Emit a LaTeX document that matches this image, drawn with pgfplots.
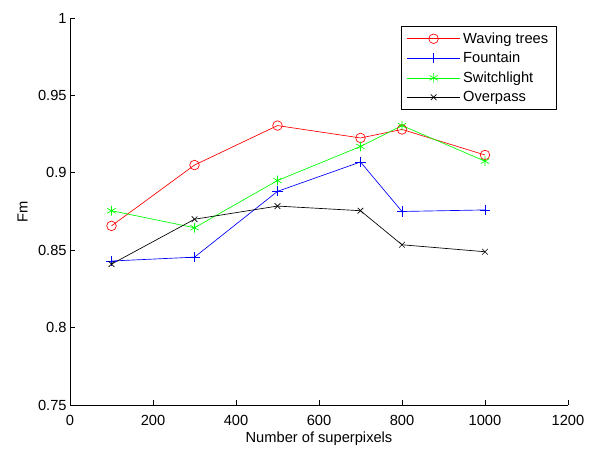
\documentclass[border=0pt]{standalone}
\usepackage{fontspec}
\setmainfont{Liberation Sans}
\usepackage{pgfplots}
\pgfplotsset{compat=1.18}
\begin{document}
\begin{tikzpicture}
\begin{axis}[
  scale only axis,
  width=373.5pt, height=290.25pt,
  xmin=0, xmax=1200, ymin=0.75, ymax=1,
  xtick={0,200,...,1200},
  ytick={0.75,0.8,0.85,0.9,0.95,1},
  yticklabels={0.75,0.8,0.85,0.9,0.95,1},
  /pgf/number format/assume math mode=true,
  /pgf/number format/set thousands separator={},
  axis x line=bottom, axis y line=left,
  axis line style={-, line width=0.5pt},
  tick align=inside,
  major tick length=4pt,
  tick style={black, line width=0.5pt},
  font=\fontsize{11pt}{13pt}\selectfont,
  xticklabel style={font=\fontsize{11pt}{13pt}\selectfont, yshift=-4pt},
  yticklabel style={font=\fontsize{11pt}{13pt}\selectfont, xshift=1pt},
  xlabel={Number of superpixels},
  ylabel={Fm},
  xlabel style={yshift=2pt},
  ylabel style={yshift=1pt},
  clip=false,
  legend style={at={(0.977,0.979)}, anchor=north east, draw=black, line width=0.5pt,
    font=\fontsize{11pt}{12pt}\selectfont, row sep=1.2pt, inner xsep=4pt, inner ysep=2.5pt},
  legend cell align=left,
  legend image code/.code={
    \draw[mark repeat=2,mark phase=2] plot coordinates {(0cm,0cm) (0.7cm,0cm) (1.4cm,0cm)};
  },
]
\addplot[color=red, line width=0.5pt, mark=o, mark size=3.6pt] coordinates {
(100,0.8657) (300,0.905) (500,0.9305) (700,0.9225) (800,0.928) (1000,0.9115)};
\addlegendentry{Waving trees}
\addplot[color=blue, line width=0.5pt, mark=+, mark size=3.8pt] coordinates {
(100,0.843) (300,0.8455) (500,0.888) (700,0.907) (800,0.875) (1000,0.876)};
\addlegendentry{Fountain}
\addplot[color=green, line width=0.5pt, mark=asterisk, mark size=3.6pt] coordinates {
(100,0.8755) (300,0.8645) (500,0.895) (700,0.917) (800,0.9305) (1000,0.9075)};
\addlegendentry{Switchlight}
\addplot[color=black, line width=0.5pt, mark=x, mark size=3pt] coordinates {
(100,0.841) (300,0.870) (500,0.8785) (700,0.8755) (800,0.8535) (1000,0.849)};
\addlegendentry{Overpass}
\path (rel axis cs:-0.1406,-0.0982) rectangle (rel axis cs:1.0442,1.0465);
\end{axis}
\end{tikzpicture}
\end{document}
